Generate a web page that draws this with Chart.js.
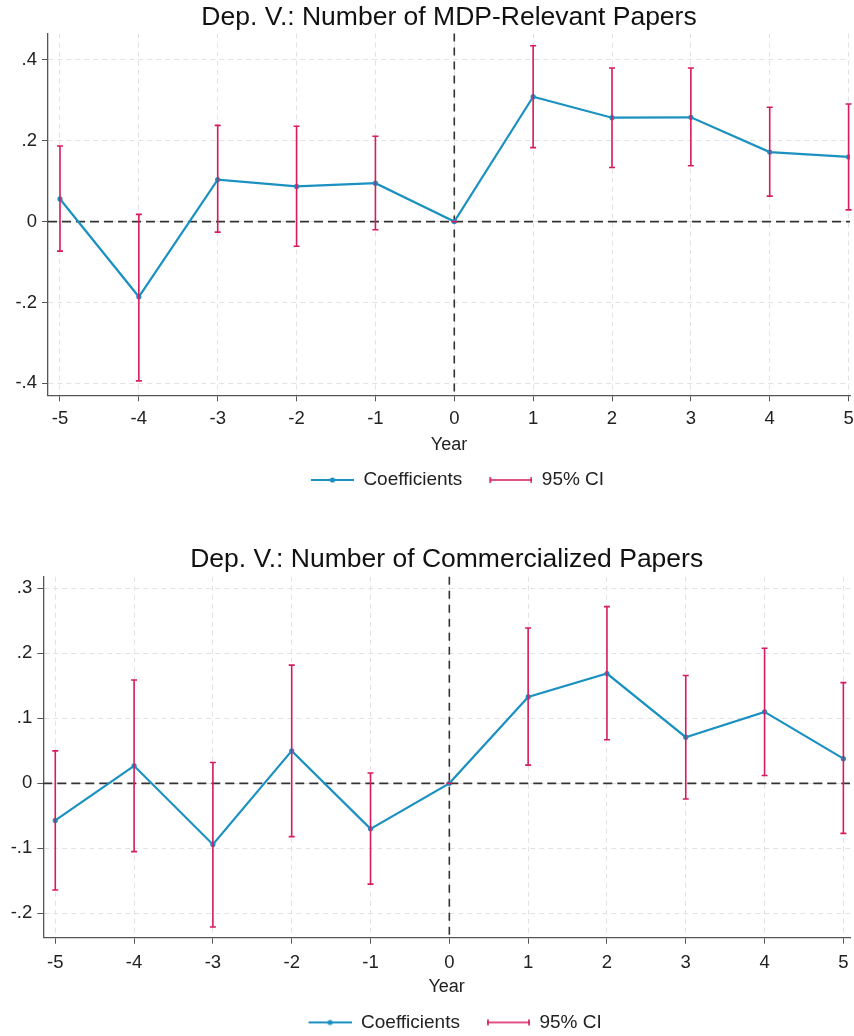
<!DOCTYPE html>
<html>
<head>
<meta charset="utf-8">
<script src="https://cdn.jsdelivr.net/npm/chart.js@4"></script>
<style>
  html, body { margin: 0; padding: 0; background: #fff; overflow: hidden; }
  .box { position: absolute; left: 0; width: 854px; }
</style>
</head>
<body>
<div class="box" style="top:0px"><canvas id="chart1" width="854" height="510"></canvas></div>
<div class="box" style="top:540px"><canvas id="chart2" width="854" height="506"></canvas></div>
<script>
// Data
const years = [-5, -4, -3, -2, -1, 0, 1, 2, 3, 4, 5]

const mdp_coef = [0.056, -0.186, 0.104, 0.087, 0.095, 0, 0.309, 0.257, 0.258, 0.172, 0.160]
const mdp_low  = [-0.073, -0.394, -0.026, -0.061, -0.020, 0, 0.183, 0.134, 0.138, 0.063, 0.029]
const mdp_high = [0.187, 0.018, 0.238, 0.236, 0.211, 0, 0.435, 0.380, 0.380, 0.283, 0.291]

const com_coef = [-0.057, 0.027, -0.094, 0.050, -0.070, 0, 0.133, 0.169, 0.071, 0.110, 0.038]
const com_low  = [-0.164, -0.105, -0.221, -0.082, -0.155, 0, 0.028, 0.067, -0.024, 0.012, -0.077]
const com_high = [0.050, 0.159, 0.032, 0.182, 0.016, 0, 0.239, 0.272, 0.166, 0.208, 0.155]

const blue = '#1b91c1'
const pink = '#d81b60'
const ink = '#222'
const font_family = "'Liberation Sans', Arial, sans-serif"

Chart.defaults.font.family = font_family
Chart.defaults.color = ink

// legend icons
function make_icon(kind) {
    const c = document.createElement('canvas')
    c.width = 60; c.height = 12
    const g = c.getContext('2d')
    if (kind == 'coef') {
        g.strokeStyle = blue; g.lineWidth = 2.2
        g.beginPath(); g.moveTo(17, 6); g.lineTo(60, 6); g.stroke()
        g.fillStyle = blue
        g.beginPath(); g.arc(38.5, 6, 2.6, 0, Math.PI * 2); g.fill()
    } else {
        g.strokeStyle = pink; g.lineWidth = 1.6
        g.beginPath(); g.moveTo(17, 6); g.lineTo(60, 6)
        g.moveTo(18, 3); g.lineTo(18, 9)
        g.moveTo(59, 3); g.lineTo(59, 9); g.stroke()
    }
    return c
}
const coef_icon = make_icon('coef')
const ci_icon = make_icon('ci')

// stata-like tick labels: .4, -.2, 0
const fmt_y = v => {
    const r = Math.round(v * 10) / 10
    if (r === 0) return '0'
    return r.toString().replace('0.', '.')
}

// dashed zero lines + confidence caps
const zero_lines = {
    id: 'zero_lines',
    beforeDatasetsDraw(chart) {
        const {ctx, chartArea: a, scales: {x, y}} = chart
        const y0 = y.getPixelForValue(0)
        const x0 = x.getPixelForValue(0)
        ctx.save()
        ctx.strokeStyle = '#333'
        ctx.lineWidth = 1.6
        ctx.setLineDash([9, 5])
        ctx.beginPath(); ctx.moveTo(a.left, y0); ctx.lineTo(a.right, y0); ctx.stroke()
        ctx.setLineDash([8, 6])
        ctx.beginPath(); ctx.moveTo(x0, a.top); ctx.lineTo(x0, a.bottom); ctx.stroke()
        ctx.restore()
    }
}

const ci_bars = {
    id: 'ci_bars',
    afterDatasetsDraw(chart) {
        const {ctx, scales: {x, y}} = chart
        const ci = chart.config.options.ci
        ctx.save()
        ctx.strokeStyle = pink
        ctx.lineWidth = 1.6
        ci.low.forEach((lo, i) => {
            const px = x.getPixelForValue(years[i])
            const p_lo = y.getPixelForValue(lo)
            const p_hi = y.getPixelForValue(ci.high[i])
            ctx.beginPath()
            ctx.moveTo(px, p_lo); ctx.lineTo(px, p_hi)
            ctx.moveTo(px - 3, p_lo); ctx.lineTo(px + 3, p_lo)
            ctx.moveTo(px - 3, p_hi); ctx.lineTo(px + 3, p_hi)
            ctx.stroke()
        })
        ctx.restore()
    }
}

function make_chart(id, opts) {
    const config = {
        type: 'line',
        data: {
            datasets: [{
                label: 'Coefficients',
                data: years.map((yr, i) => ({x: yr, y: opts.coef[i]})),
                borderColor: blue,
                backgroundColor: blue,
                borderWidth: 2.2,
                pointRadius: 2.6,
                pointBackgroundColor: blue,
                pointBorderWidth: 0,
                tension: 0
            }]
        },
        options: {
            responsive: false,
            animation: false,
            ci: {low: opts.low, high: opts.high},
            layout: {padding: {top: 0, left: 0, right: 0, bottom: opts.pad_bottom}},
            scales: {
                x: {
                    type: 'linear',
                    min: -5.152,
                    max: opts.x_max,
                    afterFit: s => { s.height = 65.2; s.paddingLeft = 0; s.paddingRight = 0 },
                    grid: {color: '#e2e2e2', lineWidth: 1, tickLength: 6, tickColor: '#555', tickBorderDash: []},
                    border: {color: '#555', width: 1.3, dash: [5, 4]},
                    ticks: {stepSize: 1, includeBounds: false, padding: opts.tick_pad, color: ink,
                        font: {size: 18.5}, callback: v => Math.round(v).toString()},
                    title: {display: true, text: 'Year', color: ink, font: {size: 18},
                        padding: {top: 3, bottom: 5}}
                },
                y: {
                    min: opts.y_min,
                    max: opts.y_max,
                    afterFit: s => { s.width = opts.y_width },
                    grid: {color: '#e2e2e2', lineWidth: 1, tickLength: 6, tickColor: '#555', tickBorderDash: []},
                    border: {color: '#555', width: 1.3, dash: [5, 4]},
                    ticks: {stepSize: opts.y_step, includeBounds: false, padding: 5, color: ink,
                        font: {size: 18.5}, callback: fmt_y}
                }
            },
            plugins: {
                title: {
                    display: true,
                    text: opts.title,
                    color: '#111',
                    fullSize: false,
                    font: {size: 26.5, weight: 'normal'},
                    padding: opts.title_pad
                },
                legend: {
                    position: 'bottom',
                    fullSize: false,
                    onClick: null,
                    labels: {
                        usePointStyle: true,
                        pointStyleWidth: 60,
                        padding: 10,
                        color: ink,
                        font: {size: 19},
                        generateLabels: () => [
                            {text: 'Coefficients', pointStyle: coef_icon, fillStyle: blue, strokeStyle: blue, lineWidth: 0, hidden: false, fontColor: ink},
                            {text: '95% CI', pointStyle: ci_icon, fillStyle: pink, strokeStyle: pink, lineWidth: 0, hidden: false, fontColor: ink}
                        ]
                    }
                },
                tooltip: {enabled: false}
            }
        },
        plugins: [zero_lines, ci_bars]
    }
    return new Chart(document.getElementById(id), config)
}

make_chart('chart1', {
    title: 'Dep. V.: Number of MDP-Relevant Papers',
    coef: mdp_coef, low: mdp_low, high: mdp_high,
    y_min: -0.4296, y_max: 0.465, y_step: 0.2,
    x_max: 5.018, y_width: 48,
    pad_bottom: 10.5, tick_pad: 7,
    title_pad: {top: 1.8, bottom: 0}
})

make_chart('chart2', {
    title: 'Dep. V.: Number of Commercialized Papers',
    coef: com_coef, low: com_low, high: com_high,
    y_min: -0.2375, y_max: 0.318, y_step: 0.1,
    x_max: 5.084, y_width: 43.3,
    pad_bottom: 4.1, tick_pad: 8.3,
    title_pad: {top: 3.5, bottom: 1.4}
})
</script>
</body>
</html>
